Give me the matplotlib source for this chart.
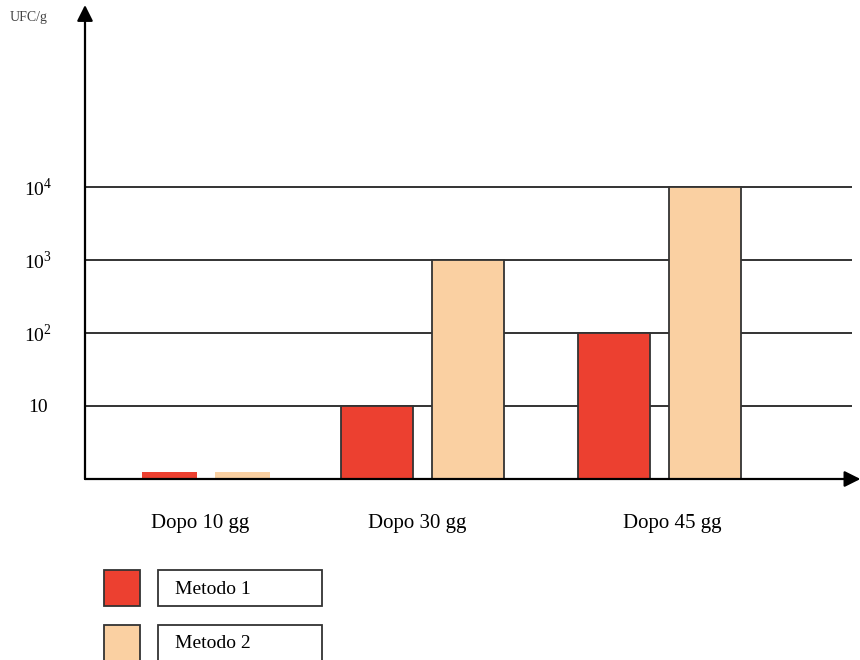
import matplotlib.pyplot as plt
from matplotlib.patches import Rectangle
import numpy as np

# data (UFC/g, log scale)
groups = ['Dopo 10 gg', 'Dopo 30 gg', 'Dopo 45 gg']
metodo1 = [1.25, 10, 100]
metodo2 = [1.25, 1000, 10000]
series_names = ['Metodo 1', 'Metodo 2']
ytick_vals = [10, 100, 1000, 10000]
ytick_labels = ['10', '$10^2$', '$10^3$', '$10^4$']

red = '#EC4030'
peach = '#FAD0A2'
dark = '#333333'

plt.rcParams['font.family'] = ['Liberation Serif', 'DejaVu Serif']
plt.rcParams['mathtext.fontset'] = 'custom'
plt.rcParams['mathtext.rm'] = 'Liberation Serif'

W, H = 860, 660
fig = plt.figure(figsize=(W / 100, H / 100), dpi=100)
# axes box in pixel terms: left 85, bottom baseline 479, right 852, top 5
ax = fig.add_axes([85 / W, (H - 479) / H, 767 / W, 474 / H])

pos = np.array([0, 0.955, 2])
widths = [0.24, 0.318, 0.318]
offs = [0.161, 0.2007, 0.2007]
label_shift = [-0.027, -0.025, 0.055]

for i in range(len(groups)):
    # the 10 gg bars are drawn as thin strips without outline
    edge = 'none' if i == 0 else dark
    ax.bar(pos[i] - offs[i], metodo1[i] - 1, bottom=1, width=widths[i],
           color=red, edgecolor=edge, linewidth=1.3, zorder=3)
    ax.bar(pos[i] + offs[i], metodo2[i] - 1, bottom=1, width=widths[i],
           color=peach, edgecolor=edge, linewidth=1.3, zorder=3)

ax.set_yscale('log')
ax.set_ylim(1, 10 ** (474 / 73))
ax.set_xlim(-0.534, 2.849)

for v in ytick_vals:
    ax.axhline(v, color=dark, linewidth=1.4, zorder=1)

ax.set_yticks(ytick_vals)
ax.set_yticklabels(ytick_labels, fontsize=14, ha='center')
ax.yaxis.set_minor_locator(plt.NullLocator())
ax.tick_params(axis='y', length=0, pad=34)
ax.set_xticks(pos + np.array(label_shift))
ax.set_xticklabels(groups, fontsize=15)
ax.tick_params(axis='x', length=0, pad=25)

for s in ax.spines.values():
    s.set_visible(False)

# axis arrows
ax.annotate('', xy=(0, 1.0), xytext=(0, 0), xycoords='axes fraction',
            arrowprops=dict(arrowstyle='-|>', color='black', lw=1.6,
                            mutation_scale=24, shrinkA=0, shrinkB=0),
            annotation_clip=False)
ax.annotate('', xy=(1.011, 0), xytext=(0, 0), xycoords='axes fraction',
            arrowprops=dict(arrowstyle='-|>', color='black', lw=1.6,
                            mutation_scale=24, shrinkA=0, shrinkB=0),
            annotation_clip=False)

fig.text(10 / W, 1 - 18 / H, 'UFC/g', fontsize=10, va='center', ha='left',
         color='#444444')

# legend drawn as boxes like the original
for k, (name, col) in enumerate(zip(series_names, [red, peach])):
    top = 570 + k * 55
    fig.add_artist(Rectangle((104 / W, 1 - (top + 36) / H), 36 / W, 36 / H,
                             transform=fig.transFigure, facecolor=col,
                             edgecolor=dark, linewidth=1.3))
    fig.add_artist(Rectangle((158 / W, 1 - (top + 36) / H), 164 / W, 36 / H,
                             transform=fig.transFigure, facecolor='white',
                             edgecolor=dark, linewidth=1.3))
    fig.text(175 / W, 1 - (top + 19) / H, name, fontsize=14,
             va='center', ha='left')

fig.savefig('out.png', dpi=100)
